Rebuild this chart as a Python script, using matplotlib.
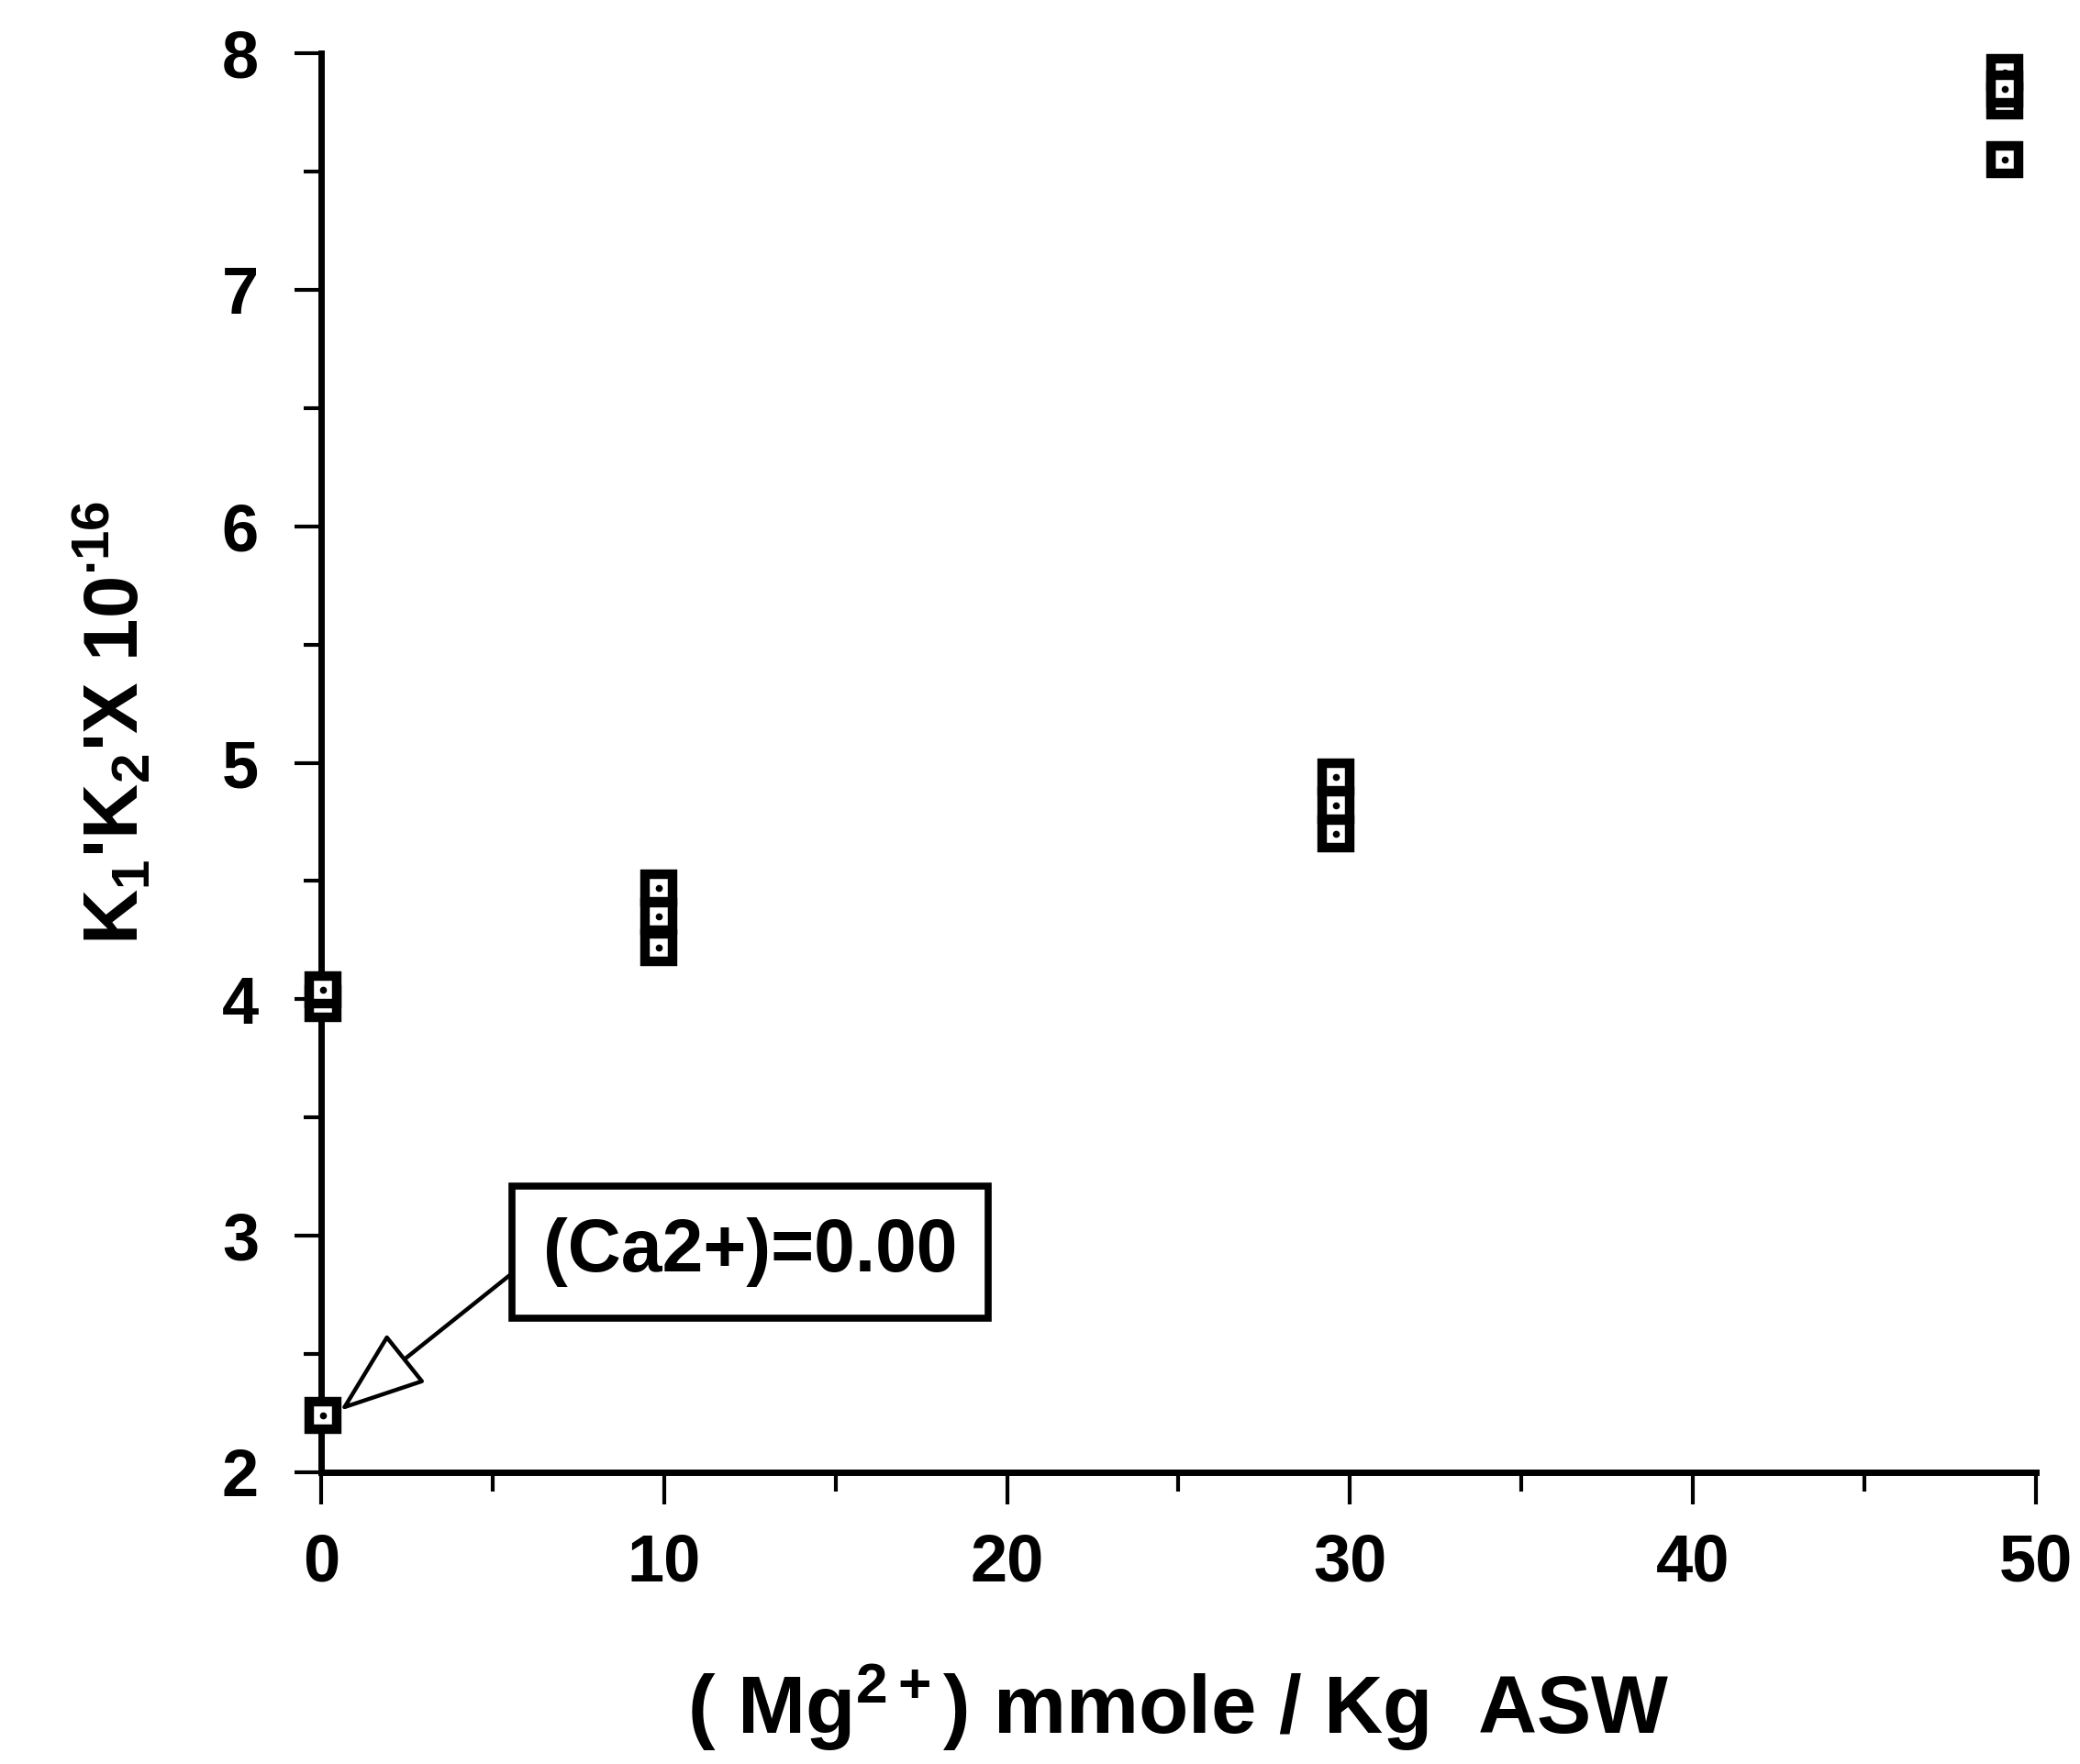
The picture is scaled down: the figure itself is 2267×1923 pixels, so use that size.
import matplotlib
matplotlib.use("Agg")
import matplotlib.pyplot as plt
from matplotlib.ticker import MultipleLocator

plt.rcParams['font.family'] = ['Liberation Sans', 'DejaVu Sans']
plt.rcParams['font.weight'] = 'bold'
plt.rcParams['mathtext.fontset'] = 'custom'
plt.rcParams['mathtext.rm'] = 'Liberation Sans:bold'
plt.rcParams['mathtext.it'] = 'Liberation Sans:bold'
plt.rcParams['mathtext.bf'] = 'Liberation Sans:bold'

# Data (drawing order matters for overlapping markers)
mg = [0.05, 0.05, 0.05, 9.85, 9.85, 9.85, 29.6, 29.6, 29.6, 49.1, 49.1, 49.1, 49.1]
k1k2 = [2.24, 3.98, 4.04, 4.22, 4.35, 4.47, 4.82, 4.94, 4.70, 7.92, 7.80, 7.85, 7.55]

x_ticks = [0, 10, 20, 30, 40, 50]
y_ticks = [2, 3, 4, 5, 6, 7, 8]
annot_text = "(Ca2+)=0.00"
annot_xy = (0.55, 2.26)
annot_text_xy = (12.5, 2.93)

fig = plt.figure(figsize=(22.67, 19.23), dpi=100)
ax = fig.add_axes([0.1544, 0.1654, 0.8244, 0.8044])

for i, (x, y) in enumerate(zip(mg, k1k2)):
    ax.plot([x], [y], marker='s', ms=21, mfc='white', mec='black', mew=7.5,
            ls='none', zorder=3 + 2 * i, clip_on=False)
    ax.plot([x], [y], marker='o', ms=4.5, color='black', ls='none',
            zorder=4 + 2 * i, clip_on=False)

ax.set_xlim(0, 50)
ax.set_ylim(2, 8)
ax.set_xticks(x_ticks)
ax.set_yticks(y_ticks)
ax.xaxis.set_minor_locator(MultipleLocator(5))
ax.yaxis.set_minor_locator(MultipleLocator(0.5))

for s in ['top', 'right']:
    ax.spines[s].set_visible(False)
for s in ['left', 'bottom']:
    ax.spines[s].set_linewidth(5)

ax.tick_params(axis='x', which='major', direction='out', length=25, width=3,
               pad=22, labelsize=52)
ax.tick_params(axis='x', which='minor', direction='out', length=15, width=3)
ax.tick_params(axis='y', which='major', direction='out', length=21, width=3,
               pad=28, labelsize=52)
ax.tick_params(axis='y', which='minor', direction='out', length=14, width=3)
for lbl in ax.get_xticklabels() + ax.get_yticklabels():
    lbl.set_fontweight('bold')

ax.set_xlabel(r"( Mg$^{2+}$) mmole / Kg  ASW", fontsize=64, fontweight='bold')
ax.xaxis.set_label_coords(0.5, -0.166)
ax.xaxis.label.set_va('center')

ax.set_ylabel(r"K$_1$'K$_2$'X 10$^{\bullet 16}$", fontsize=60, fontweight='bold')
ax.yaxis.set_label_coords(-0.121, 0.528)
ax.yaxis.label.set_va('center')

ax.annotate(annot_text, xy=annot_xy, xytext=annot_text_xy,
            textcoords='data', fontsize=58, fontweight='bold',
            ha='center', va='center', zorder=40,
            bbox=dict(boxstyle='square,pad=0.42', fc='white', ec='black', lw=5.5),
            arrowprops=dict(arrowstyle='-|>,head_length=1.5,head_width=0.55',
                            mutation_scale=40, lw=3.2, fc='white', ec='black',
                            relpos=(0.0, 0.55), shrinkA=0, shrinkB=0),
            annotation_clip=False)

fig.savefig("out.png", dpi=100, facecolor='white')
